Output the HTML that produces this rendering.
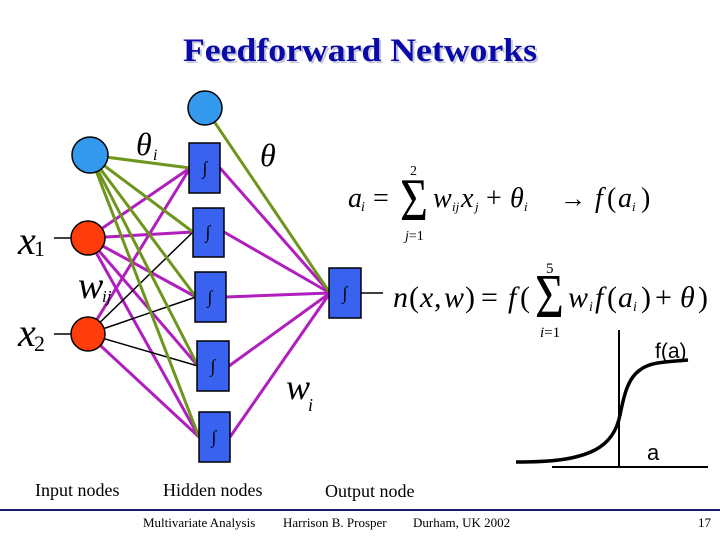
<!DOCTYPE html>
<html><head><meta charset="utf-8"><style>
html,body{margin:0;padding:0;background:#fff;}
svg{display:block;font-family:"Liberation Serif",serif;}
</style></head><body>
<svg width="720" height="540" viewBox="0 0 720 540" xmlns="http://www.w3.org/2000/svg">
<rect width="720" height="540" fill="#fff"/>
<text x="362" y="63" font-size="33" font-weight="bold" fill="#c8c8d8" text-anchor="middle" textLength="354" lengthAdjust="spacingAndGlyphs">Feedforward Networks</text>
<text x="360" y="61" font-size="33" font-weight="bold" fill="#0a0aa8" text-anchor="middle" textLength="354" lengthAdjust="spacingAndGlyphs">Feedforward Networks</text>

<line x1="54" y1="238" x2="72" y2="238" stroke="#000" stroke-width="1.5"/>
<line x1="54" y1="334" x2="72" y2="334" stroke="#000" stroke-width="1.5"/>

<g stroke-width="3" fill="none">
<g stroke="#b01ebe">
<line x1="88" y1="238" x2="190" y2="168"/>
<line x1="88" y1="238" x2="193" y2="232"/>
<line x1="88" y1="238" x2="196" y2="297"/>
<line x1="88" y1="238" x2="198" y2="366"/>
<line x1="88" y1="238" x2="199" y2="437"/>
<line x1="88" y1="334" x2="190" y2="168"/>
<line x1="88" y1="334" x2="199" y2="437"/>
<line x1="220" y1="168" x2="330" y2="293"/>
<line x1="224" y1="232" x2="330" y2="293"/>
<line x1="226" y1="297" x2="330" y2="293"/>
<line x1="229" y1="366" x2="330" y2="293"/>
<line x1="230" y1="437" x2="330" y2="293"/>
</g>
<g stroke="#000" stroke-width="1.5">
<line x1="88" y1="334" x2="193" y2="232"/>
<line x1="88" y1="334" x2="196" y2="297"/>
<line x1="88" y1="334" x2="198" y2="366"/>
</g>
<g stroke="#6e961e">
<line x1="90" y1="155" x2="190" y2="168"/>
<line x1="90" y1="155" x2="193" y2="232"/>
<line x1="90" y1="155" x2="196" y2="297"/>
<line x1="90" y1="155" x2="198" y2="366"/>
<line x1="90" y1="155" x2="199" y2="437"/>
<line x1="205" y1="108" x2="330" y2="293"/>
</g>
</g>

<g stroke="#000" stroke-width="1.5">
<circle cx="205" cy="108" r="17" fill="#3399ee"/>
<circle cx="90" cy="155" r="18" fill="#3399ee"/>
<circle cx="88" cy="238" r="17" fill="#ff3d0a"/>
<circle cx="88" cy="334" r="17" fill="#ff3d0a"/>
</g>

<g stroke="#000" stroke-width="1.5" fill="#3a62f0">
<rect x="189" y="143" width="31" height="50"/>
<rect x="193" y="208" width="31" height="49"/>
<rect x="195" y="272" width="31" height="50"/>
<rect x="197" y="341" width="32" height="50"/>
<rect x="199" y="412" width="31" height="50"/>
<rect x="329" y="268" width="32" height="50"/>
</g>
<g font-size="18" fill="#000" text-anchor="middle">
<text x="205" y="174">∫</text>
<text x="208" y="238">∫</text>
<text x="210" y="303">∫</text>
<text x="213" y="372">∫</text>
<text x="214" y="443">∫</text>
<text x="345" y="299">∫</text>
</g>
<line x1="361" y1="293" x2="383" y2="293" stroke="#000" stroke-width="1.5"/>

<g font-style="italic" fill="#000">
<text x="136" y="155" font-size="32">θ</text><text x="153" y="160" font-size="16">i</text>
<text x="260" y="166" font-size="32">θ</text>
<text x="18" y="254" font-size="40">x</text><text x="34" y="256" font-size="22" font-style="normal">1</text>
<text x="18" y="346" font-size="40">x</text><text x="34" y="351" font-size="22" font-style="normal">2</text>
<text x="78" y="298" font-size="38">w</text><text x="102" y="302" font-size="17">ij</text>
<text x="286" y="399" font-size="36">w</text><text x="308" y="411" font-size="18">i</text>
</g>

<!-- equation 1 -->
<g fill="#000">
<text x="348" y="207" font-size="28" font-style="italic">a</text><text x="361" y="211" font-size="14" font-style="italic">i</text>
<text x="373" y="207" font-size="28">=</text>
<text transform="translate(400,220) scale(0.8,1)" font-size="60">Σ</text>
<text x="410" y="175" font-size="14">2</text>
<text x="405" y="240" font-size="14"><tspan font-style="italic">j</tspan>=1</text>
<text x="433" y="207" font-size="28" font-style="italic">w</text><text x="452" y="211" font-size="13" font-style="italic">ij</text>
<text x="461" y="207" font-size="28" font-style="italic">x</text><text x="475" y="211" font-size="13" font-style="italic">j</text>
<text x="486" y="207" font-size="28">+</text>
<text x="510" y="207" font-size="28" font-style="italic">θ</text><text x="524" y="211" font-size="13" font-style="italic">i</text>
<text x="560" y="207" font-size="26">→</text>
<text x="595" y="207" font-size="28" font-style="italic">f</text><text x="607" y="207" font-size="28">(</text>
<text x="618" y="207" font-size="28" font-style="italic">a</text><text x="632" y="211" font-size="13" font-style="italic">i</text><text x="641" y="207" font-size="28">)</text>
</g>

<!-- equation 2 -->
<g fill="#000">
<text x="393" y="307" font-size="30" font-style="italic">n</text>
<text x="409" y="307" font-size="30">(</text>
<text x="420" y="307" font-size="30" font-style="italic">x</text>
<text x="434" y="307" font-size="30">,</text>
<text x="444" y="307" font-size="30" font-style="italic">w</text>
<text x="465" y="307" font-size="30">)</text>
<text x="481" y="307" font-size="30">=</text>
<text x="508" y="307" font-size="30" font-style="italic">f</text>
<text x="520" y="307" font-size="30">(</text>
<text transform="translate(535,317) scale(0.8,1)" font-size="62">Σ</text>
<text x="546" y="273" font-size="15">5</text>
<text x="540" y="337" font-size="15"><tspan font-style="italic">i</tspan>=1</text>
<text x="568" y="307" font-size="30" font-style="italic">w</text><text x="589" y="311" font-size="14" font-style="italic">i</text>
<text x="595" y="307" font-size="30" font-style="italic">f</text>
<text x="607" y="307" font-size="30">(</text>
<text x="618" y="307" font-size="30" font-style="italic">a</text><text x="633" y="311" font-size="14" font-style="italic">i</text>
<text x="641" y="307" font-size="30">)</text>
<text x="655" y="307" font-size="30">+</text>
<text x="680" y="307" font-size="30" font-style="italic">θ</text>
<text x="698" y="307" font-size="30">)</text>
</g>

<line x1="619" y1="330" x2="619" y2="467" stroke="#000" stroke-width="2"/>
<line x1="552" y1="467" x2="708" y2="467" stroke="#000" stroke-width="2"/>
<path d="M516,462 C550,462 575,460 595,450 C610,442 617,430 620,415 C624,395 628,378 640,370 C650,362 665,362 688,360" fill="none" stroke="#000" stroke-width="3.5"/>
<text x="655" y="358" font-size="21" style="font-family:'Liberation Sans',sans-serif">f(a)</text>
<text x="647" y="460" font-size="22" style="font-family:'Liberation Sans',sans-serif">a</text>

<g font-size="18" fill="#000">
<text x="35" y="496">Input nodes</text>
<text x="163" y="496">Hidden nodes</text>
<text x="325" y="497">Output node</text>
</g>
<rect x="0" y="509" width="720" height="2" fill="#1a1a6e"/>
<g font-size="13" fill="#000">
<text x="143" y="527">Multivariate Analysis</text>
<text x="283" y="527">Harrison B. Prosper</text>
<text x="413" y="527">Durham, UK 2002</text>
<text x="698" y="527">17</text>
</g>
</svg>
</body></html>
